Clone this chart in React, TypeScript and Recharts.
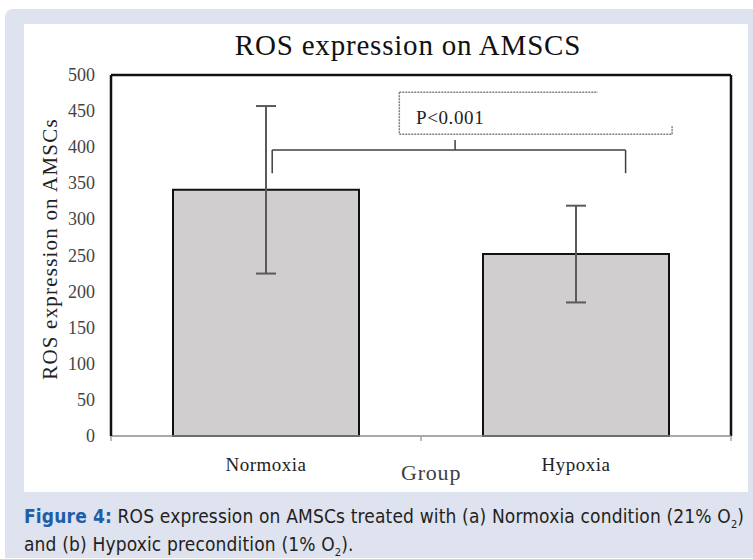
import { BarChart, Bar, XAxis, YAxis, ErrorBar, ReferenceLine } from 'recharts'

// values
const groups = ['Normoxia', 'Hypoxia']
const groupPos = [0.5, 1.5]
const rosMean = [341, 252]
const rosErr = [116, 67]
const yTicks = [0, 50, 100, 150, 200, 250, 300, 350, 400, 450, 500]
const xTicks = [0, 0.5, 1, 1.5, 2]

// significance bracket + dotted text box, in data units (x: 0..2 across both groups)
const bracket = [
  [[0.52, 396], [1.66, 396]],
  [[0.52, 396], [0.52, 364]],
  [[1.66, 396], [1.66, 364]],
  [[1.11, 396], [1.11, 410]],
]
const noteBox = [
  [[0.93, 476], [1.57, 476]],
  [[0.93, 476], [0.93, 418]],
  [[0.93, 418], [1.81, 418]],
  [[1.81, 418], [1.81, 429]],
]

const data = groups.map((g, i) => ({ group: g, x: groupPos[i], ros: rosMean[i], err: rosErr[i] }))

const serif = '"Liberation Serif", "Times New Roman", serif'

// tick marks sit between groups (Excel style), labels under each group
const XTick = (props: any) => {
  const { x, y, payload } = props
  const i = groupPos.indexOf(payload.value)
  if (i < 0) {
    return <line x1={x} x2={x} y1={y} y2={y + 5} stroke="#a6a6a6" strokeWidth={1.5} />
  }
  return (
    <text x={x} y={y + 35} textAnchor="middle" style={{ fontFamily: serif }} fontSize={19} letterSpacing={0.5} fill="#222">
      {groups[i]}
    </text>
  )
}

const YTick = (props: any) => {
  const { x, y, payload } = props
  return (
    <text x={x} y={y} dy={6} textAnchor="end" style={{ fontFamily: serif }} fontSize={18} fill="#444">
      {payload.value}
    </text>
  )
}

export default function App() {
  return (
    <div style={{ position: 'absolute', left: 0, top: 0, width: 753, height: 559, background: '#fff', overflow: 'hidden' }}>
      <div style={{ position: 'absolute', left: 5, top: 9, width: 760, height: 549, background: '#dfe2ef', borderTopLeftRadius: 8 }} />
      <div style={{ position: 'absolute', left: 24, top: 24, width: 724, height: 468, background: '#fff' }} />

      <div style={{ position: 'absolute', left: 158, width: 500, top: 29, textAlign: 'center', fontFamily: serif, fontSize: 29, letterSpacing: 0.8, color: '#111' }}>
        ROS expression on AMSCS
      </div>
      <div style={{ position: 'absolute', left: 50, top: 249, transform: 'translate(-50%, -50%) rotate(-90deg)', whiteSpace: 'nowrap', fontFamily: serif, fontSize: 21, letterSpacing: 1.2, color: '#222' }}>
        ROS expression on AMSCs
      </div>
      <div style={{ position: 'absolute', left: 401, top: 460, fontFamily: serif, fontSize: 22, letterSpacing: 0.8, color: '#404040' }}>
        Group
      </div>
      <div style={{ position: 'absolute', left: 416, top: 107, fontFamily: serif, fontSize: 19, letterSpacing: 0.6, color: '#222' }}>
        P&lt;0.001
      </div>

      <div style={{ position: 'absolute', left: 0, top: 0, fontFamily: serif }}>
        <BarChart width={753} height={559} data={data} barSize={186} margin={{ top: 75, right: 22, left: 31, bottom: 83 }}>
          <XAxis dataKey="x" type="number" domain={[0, 2]} ticks={xTicks} interval={0} allowDataOverflow
            height={40} tickSize={0} tickMargin={0} tickLine={false} tick={XTick}
            axisLine={{ stroke: '#8c8c8c', strokeWidth: 1.5 }} />
          <YAxis domain={[0, 500]} ticks={yTicks} width={80} tickSize={0} tickMargin={16} interval={0}
            axisLine={{ stroke: '#111', strokeWidth: 2.5 }} tick={YTick} />
          <ReferenceLine y={500} stroke="#111" strokeWidth={2.5} />
          <ReferenceLine x={2} stroke="#111" strokeWidth={2.5} />
          <Bar dataKey="ros" fill="#d0cece" stroke="#111" strokeWidth={2} isAnimationActive={false}>
            <ErrorBar dataKey="err" width={10} stroke="#5a5a5a" strokeWidth={2} />
          </Bar>
          {bracket.map((s, i) => (
            <ReferenceLine key={'b' + i} segment={s.map(([x, y]) => ({ x, y }))} stroke="#404040" strokeWidth={1.5} />
          ))}
          {noteBox.map((s, i) => (
            <ReferenceLine key={'n' + i} segment={s.map(([x, y]) => ({ x, y }))} stroke="#7f7f7f" strokeWidth={1.5} strokeDasharray="2 1" />
          ))}
        </BarChart>
      </div>

      <div style={{ position: 'absolute', left: 24, top: 504, width: 728, fontFamily: '"Liberation Sans Narrow", "DejaVu Sans Condensed", sans-serif', fontStretch: 'condensed', fontSize: 19, letterSpacing: 0.15, lineHeight: '25px', color: '#231f20', whiteSpace: 'nowrap' }}>
        <span style={{ color: '#1d5ea9', fontWeight: 'bold' }}>Figure 4:</span> ROS expression on AMSCs treated with (a) Normoxia condition (21% O<span style={{ fontSize: 11, position: 'relative', top: 5 }}>2</span>)
        <br />
        and (b) Hypoxic precondition (1% O<span style={{ fontSize: 11, position: 'relative', top: 5 }}>2</span>).
      </div>
    </div>
  )
}
